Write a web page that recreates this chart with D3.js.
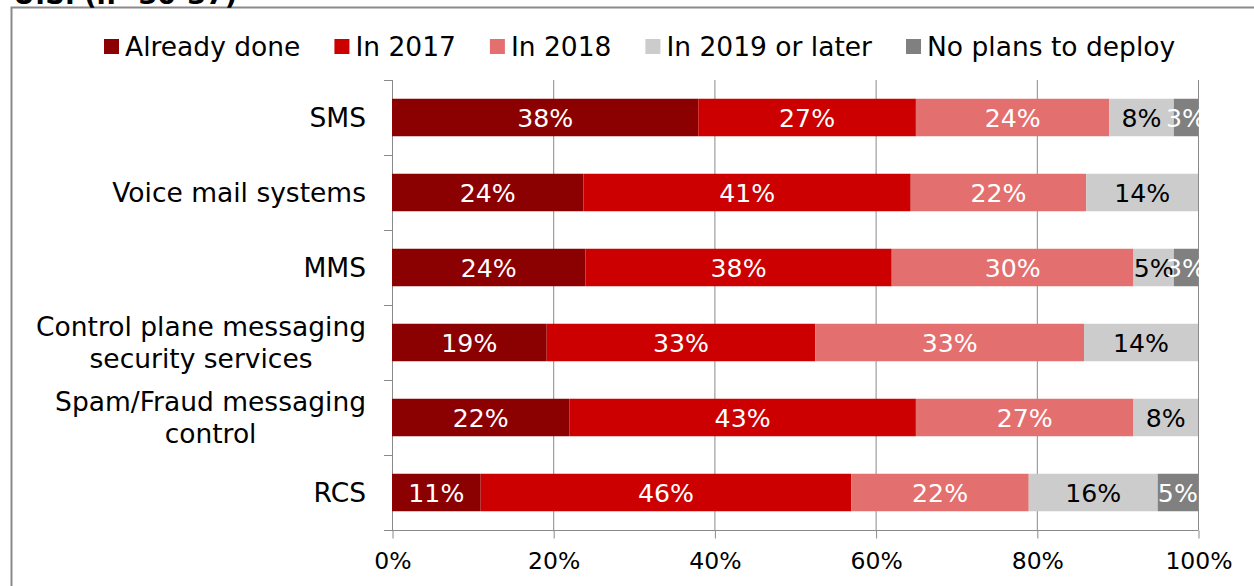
<!DOCTYPE html>
<html>
<head>
<meta charset="utf-8">
<script src="https://cdn.jsdelivr.net/npm/d3@7"></script>
<style>
  html, body { margin: 0; padding: 0; background: #fff; }
  svg { display: block; font-family: "DejaVu Sans", Verdana, sans-serif; }
</style>
</head>
<body>
<svg id="chart" width="1254" height="586"></svg>
<script>
// Deployment timing of messaging security, U.S. respondents
const categories = [
  "SMS",
  "Voice mail systems",
  "MMS",
  "Control plane messaging\nsecurity services",
  "Spam/Fraud messaging\ncontrol",
  "RCS"
];
const seriesNames = ["Already done", "In 2017", "In 2018", "In 2019 or later", "No plans to deploy"];
const alreadyDone = [38, 24, 24, 19, 22, 11];
const in2017      = [27, 41, 38, 33, 43, 46];
const in2018      = [24, 22, 30, 33, 27, 22];
const in2019      = [8, 14, 5, 14, 8, 16];
const noPlans     = [3, 0, 3, 0, 0, 5];
const xTicks = [0, 0.2, 0.4, 0.6, 0.8, 1];
const titleText = "U.S. (n=30-37)";

const seriesColors = ["#8b0000", "#cc0000", "#e46f6f", "#cccccc", "#808080"];
const labelColors  = ["#fff", "#fff", "#fff", "#000", "#fff"];

const seriesValues = [alreadyDone, in2017, in2018, in2019, noPlans];

// rows for the stack, normalised to 100% per category
const rows = categories.map((c, i) => {
  const row = { category: c };
  const total = d3.sum(seriesValues, s => s[i]);
  seriesNames.forEach((n, k) => { row[n] = seriesValues[k][i] / total; row[n + "_raw"] = seriesValues[k][i]; });
  return row;
});
const stacked = d3.stack().keys(seriesNames)(rows);

const svg = d3.select("#chart");
const plot = { left: 392, right: 1198, top: 80, bottom: 530 };

const x = d3.scaleLinear().domain([0, 1]).range([plot.left, plot.right]);
const y = d3.scaleBand().domain(categories).range([plot.top, plot.bottom])
  .paddingInner(0.5).paddingOuter(0.25);

// outer frame
svg.append("path")
  .attr("d", "M11.5,586 V7.5 H1254")
  .attr("fill", "none").attr("stroke", "#8a8a8a").attr("stroke-width", 2);

// title sitting above the frame edge
svg.append("text")
  .attr("x", 13).attr("y", 4)
  .attr("font-size", 27).attr("font-weight", "bold")
  .attr("fill", "#000")
  .text(titleText);

// vertical gridlines
svg.append("g").selectAll("line").data(xTicks).join("line")
  .attr("x1", d => x(d) + 0.5).attr("x2", d => x(d) + 0.5)
  .attr("y1", plot.top).attr("y2", plot.bottom)
  .attr("stroke", "#8a8a8a").attr("stroke-width", 1);

// bottom axis
const xAxis = d3.axisBottom(x).tickValues(xTicks).tickFormat(d3.format(".0%"))
  .tickSizeInner(8).tickSizeOuter(0).tickPadding(14);
const gx = svg.append("g").attr("transform", `translate(0.5,${plot.bottom + 0.5})`).call(xAxis);
gx.select(".domain").attr("d", `M${plot.left - 8},0H${plot.right}`).attr("stroke", "#8a8a8a");
gx.selectAll(".tick line").attr("stroke", "#8a8a8a");
gx.selectAll(".tick text").attr("font-size", 23.5).attr("fill", "#000")
  .attr("font-family", "DejaVu Sans, Verdana, sans-serif");

// left axis: line and band separators
const bandEdges = categories.map(c => y(c) - y.step() * y.paddingInner() / 2).concat([plot.bottom]);
svg.append("line")
  .attr("x1", plot.left + 0.5).attr("x2", plot.left + 0.5)
  .attr("y1", plot.top).attr("y2", plot.bottom)
  .attr("stroke", "#8a8a8a");
svg.append("g").selectAll("line").data(bandEdges).join("line")
  .attr("x1", plot.left - 8).attr("x2", plot.left)
  .attr("y1", d => d + 0.5).attr("y2", d => d + 0.5)
  .attr("stroke", "#8a8a8a");

// stacked bars
const layers = svg.append("g").selectAll("g").data(stacked).join("g")
  .attr("fill", (d, i) => seriesColors[i]);
layers.selectAll("rect").data(d => d).join("rect")
  .attr("x", d => x(d[0]))
  .attr("width", d => x(d[1]) - x(d[0]))
  .attr("y", d => y(d.data.category))
  .attr("height", y.bandwidth());

// value labels
const labelLayers = svg.append("g").selectAll("g").data(stacked).join("g")
  .attr("fill", (d, i) => labelColors[i]);
labelLayers.each(function(layer) {
  d3.select(this).selectAll("text")
    .data(layer.filter(d => d.data[layer.key + "_raw"] > 0))
    .join("text")
    .attr("x", d => (x(d[0]) + x(d[1])) / 2)
    .attr("y", d => y(d.data.category) + y.bandwidth() / 2)
    .attr("dy", "0.36em")
    .attr("text-anchor", "middle")
    .attr("font-size", 25.2)
    .text(d => d.data[layer.key + "_raw"] + "%");
});

// category labels, right aligned block with centred lines
const catG = svg.append("g");
categories.forEach(c => {
  const lines = c.split("\n");
  const g = catG.append("g");
  const lineH = 32;
  const cy = y(c) + y.bandwidth() / 2;
  const texts = g.selectAll("text").data(lines).join("text")
    .attr("font-size", 26.5)
    .attr("fill", "#000")
    .attr("text-anchor", "middle")
    .attr("y", (d, i) => cy + (i - (lines.length - 1) / 2) * lineH)
    .attr("dy", "0.36em")
    .text(d => d);
  let maxW = 0;
  texts.each(function() { maxW = Math.max(maxW, this.getComputedTextLength()); });
  texts.attr("x", 366 - maxW / 2);
});

// legend
const legend = svg.append("g");
let lx = 104;
seriesNames.forEach((n, i) => {
  legend.append("rect")
    .attr("x", lx).attr("y", 39).attr("width", 15).attr("height", 15)
    .attr("fill", seriesColors[i]);
  const t = legend.append("text")
    .attr("x", lx + 21).attr("y", 46).attr("dy", "0.36em")
    .attr("font-size", 26.5).attr("fill", "#000")
    .text(n);
  lx += 21 + t.node().getComputedTextLength() + 34;
});
</script>
</body>
</html>
